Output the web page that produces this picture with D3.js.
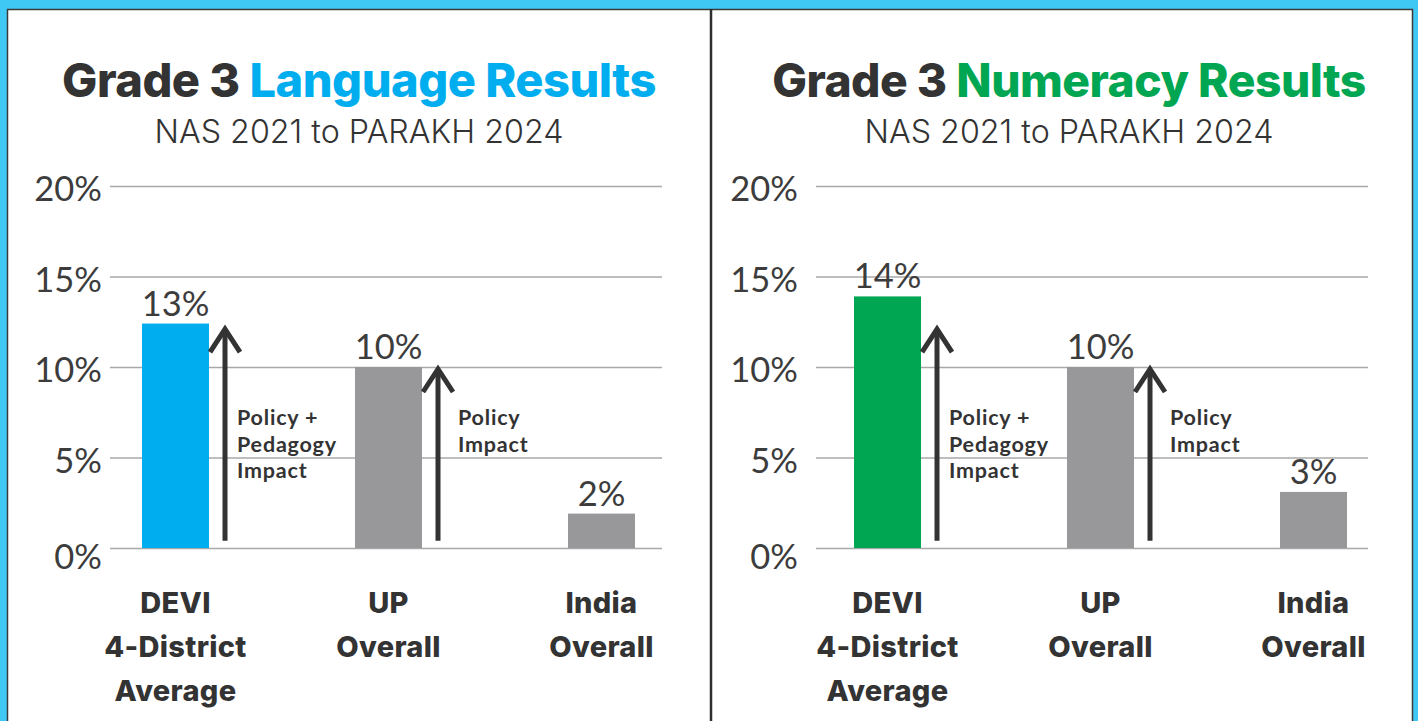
<!DOCTYPE html>
<html>
<head>
<meta charset="utf-8">
<script src="https://cdn.jsdelivr.net/npm/d3@7"></script>
<style>
  body { margin: 0; background: #40c8f4; }
  svg { display: block; }
</style>
</head>
<body>
<div id="chart"></div>
<script>
// data
var categories = ["DEVI 4-District Average", "UP Overall", "India Overall"];
var categoryLines = [["DEVI", "4-District", "Average"], ["UP", "Overall"], ["India", "Overall"]];
var languageValues = [12.4, 10.0, 1.9];
var languageLabels = ["13%", "10%", "2%"];
var numeracyValues = [13.9, 10.0, 3.1];
var numeracyLabels = ["14%", "10%", "3%"];
var yTicks = [0, 5, 10, 15, 20];
var arrowCategories = ["DEVI 4-District Average", "UP Overall"];
var arrowFrom = [0.4, 0.4];
var arrowTo = [12.2, 10.0];
var arrowText = [["Policy +", "Pedagogy", "Impact"], ["Policy", "Impact"]];

// size
var width = 1418;
var height = 721;

// colours
var dark = "#333333";
var grey_bar = "#98989a";
var grid_color = "#a9a9a9";

var svg = d3.select("#chart")
            .append("svg")
            .attr("width", width)
            .attr("height", height);

// blue frame, white card, divider
svg.append("rect")
   .attr("width", width)
   .attr("height", height)
   .attr("fill", "#40c8f4");
svg.append("rect")
   .attr("x", 7.5)
   .attr("y", 9.5)
   .attr("width", 1405)
   .attr("height", 760)
   .attr("fill", "#ffffff")
   .attr("stroke", "#3a3a3a")
   .attr("stroke-width", 1.5);
svg.append("line")
   .attr("x1", 711)
   .attr("x2", 711)
   .attr("y1", 9)
   .attr("y2", height)
   .attr("stroke", "#2e2e2e")
   .attr("stroke-width", 2.5);

var yScale = d3.scaleLinear()
               .domain([0, 20])
               .range([548, 186]);

var panels = [
  {title: "Language Results", color: "#00aeef", values: languageValues, labels: languageLabels,
   center: 359, gridX: [110, 662], barX: 142, tickPad: 8},
  {title: "Numeracy Results", color: "#00a651", values: numeracyValues, labels: numeracyLabels,
   center: 1069, gridX: [816, 1368], barX: 854, tickPad: 18}
];

// shrink or grow a text so that it spans the wanted width
function fitText(sel, size, target) {
  sel.style("font-size", size + "px");
  var w = sel.node().getComputedTextLength();
  sel.style("font-size", (size * target / w) + "px");
}

function drawPanel(p) {
  var g = svg.append("g");

  // title
  var title = g.append("text")
               .attr("x", p.center)
               .attr("y", 97)
               .attr("text-anchor", "middle")
               .style("font-family", "Inter")
               .style("font-weight", 800)
               .style("letter-spacing", "-0.5px");
  title.append("tspan").attr("fill", dark).text("Grade 3 ");
  title.append("tspan").attr("fill", p.color).text(p.title);
  fitText(title, 40, 592);

  var sub = g.append("text")
             .attr("x", p.center)
             .attr("y", 143)
             .attr("text-anchor", "middle")
             .attr("fill", dark)
             .style("font-family", "Inter")
             .style("font-weight", 300)
             .text("NAS 2021 to PARAKH 2024");
  fitText(sub, 30, 409);

  // y axis with gridlines
  var yAxis = d3.axisLeft(yScale)
                .tickValues(yTicks)
                .tickFormat(function(d) { return d + "%"; })
                .tickSizeInner(-(p.gridX[1] - p.gridX[0]))
                .tickSizeOuter(0)
                .tickPadding(p.tickPad);
  var ag = g.append("g")
            .attr("transform", "translate(" + p.gridX[0] + ",0)")
            .call(yAxis);
  ag.select(".domain").remove();
  ag.selectAll(".tick line")
    .attr("stroke", grid_color)
    .attr("stroke-width", 1.5);
  ag.selectAll(".tick text")
    .attr("fill", "#3c3c3c")
    .attr("dy", function(d) { return d === 0 ? "0.6em" : "0.42em"; })
    .style("font-family", "Lato")
    .style("font-size", "34.5px");

  // x positions
  var xScale = d3.scaleBand()
                 .domain(categories)
                 .range([p.barX, p.barX + 493])
                 .paddingInner(0.6854)
                 .paddingOuter(0);

  // bars
  g.selectAll(".bar")
   .data(p.values)
   .enter().append("rect")
   .attr("class", "bar")
   .attr("x", function(d, i) { return xScale(categories[i]); })
   .attr("y", function(d) { return yScale(d); })
   .attr("width", xScale.bandwidth())
   .attr("height", function(d) { return yScale(0) - yScale(d); })
   .attr("fill", function(d, i) { return i === 0 ? p.color : grey_bar; });

  // value labels
  g.selectAll(".value")
   .data(p.values)
   .enter().append("text")
   .attr("class", "value")
   .attr("x", function(d, i) { return xScale(categories[i]) + xScale.bandwidth() / 2; })
   .attr("y", function(d) { return yScale(d) - 8; })
   .attr("text-anchor", "middle")
   .attr("fill", "#3c3c3c")
   .style("font-family", "Lato")
   .style("font-size", "34.5px")
   .text(function(d, i) { return p.labels[i]; });

  // impact arrows
  var textDx = [12, 20];
  arrowCategories.forEach(function(c, i) {
    var ax = xScale(c) + xScale.bandwidth() + 16;
    var top = yScale(arrowTo[i]);
    g.append("line")
     .attr("x1", ax)
     .attr("x2", ax)
     .attr("y1", yScale(arrowFrom[i]))
     .attr("y2", top + 2)
     .attr("stroke", dark)
     .attr("stroke-width", 5);
    g.append("path")
     .attr("d", "M" + (ax - 15) + "," + (top + 25) + "L" + ax + "," + (top + 2) + "L" + (ax + 15) + "," + (top + 25))
     .attr("fill", "none")
     .attr("stroke", dark)
     .attr("stroke-width", 5);
    g.selectAll(".arrow-text-" + i)
     .data(arrowText[i])
     .enter().append("text")
     .attr("x", ax + textDx[i])
     .attr("y", function(d, j) { return 425 + j * 26.5; })
     .attr("fill", dark)
     .style("font-family", "Lato")
     .style("font-weight", 700)
     .style("font-size", "21.5px")
     .style("letter-spacing", "0.8px")
     .text(function(d) { return d; });
  });

  // category labels
  categories.forEach(function(c, i) {
    g.selectAll(".cat-" + i)
     .data(categoryLines[i])
     .enter().append("text")
     .attr("x", xScale(c) + xScale.bandwidth() / 2)
     .attr("y", function(d, j) { return 613 + j * 44; })
     .attr("text-anchor", "middle")
     .attr("fill", dark)
     .style("font-family", "Inter")
     .style("font-weight", 800)
     .style("font-size", "29px")
     .style("letter-spacing", "0.3px")
     .text(function(d) { return d; });
  });
}

panels.forEach(drawPanel);
</script>
</body>
</html>
